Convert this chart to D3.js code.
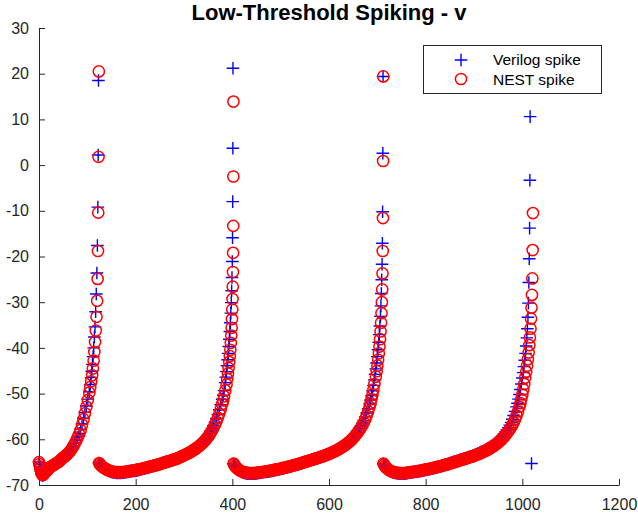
<!DOCTYPE html>
<html><head><meta charset="utf-8">
<script src="https://cdn.jsdelivr.net/npm/d3@7"></script>
<style>body{margin:0;background:#fff}svg text{font-family:"Liberation Sans",Arial,Helvetica,sans-serif}</style>
</head><body><svg id="chart" width="638" height="514"></svg>
<script>
const chartTitle = "Low-Threshold Spiking - v";
const seriesNames = ["Verilog spike", "NEST spike"];
const xTicks = [0, 200, 400, 600, 800, 1000, 1200];
const yTicks = [-70, -60, -50, -40, -30, -20, -10, 0, 10, 20, 30];

// [time (ms), membrane potential v (mV)]
const verilogSpike = [
[0,-65.0],[1,-65.4],[2,-66.0],[3,-66.5],[4,-67.0],[5,-67.4],[6,-67.7],[7,-67.9],[8,-67.9],[9,-67.8],[10,-67.7],[12,-67.5],[14,-67.2],[16,-67.0],[18,-66.8],[20,-66.5],[23,-66.2],[26,-65.95],[29,-65.75],[32,-65.55],[35,-65.35],[38,-65.15],[41,-64.9],[44,-64.6],[47,-64.3],[50,-64.0],[53,-63.75],[56,-63.45],[59,-63.15],[62,-62.8],[65,-62.4],[68,-61.9],[71,-61.4],[74,-60.8],[77,-60.2],[80,-59.5],[83,-58.7],[86,-57.8],[89,-56.6],[92,-55.4],[95,-54.1],[98,-52.7],[101,-51.2],[104,-49.6],[106.2,-48.0],[107.8,-46.5],[109.2,-45.1],[110.6,-43.6],[111.9,-41.9],[113.2,-40.0],[114.6,-37.6],[115.8,-35.4],[117.2,-32.1],[118.5,-28.2],[119.7,-23.6],[120.8,-17.6],[121.7,-9.2],[122.4,2.2],[123.0,18.5],
[124,-65.2],[126,-65.5],[128,-65.75],[130,-65.95],[133,-66.2],[136,-66.45],[139,-66.65],[142,-66.8],[145,-66.95],[148,-67.1],[151,-67.2],[154,-67.25],[157,-67.3],[160,-67.35],[163,-67.35],[166,-67.35],[169,-67.35],[172,-67.3],[175,-67.3],[178,-67.25],[181,-67.2],[184,-67.15],[187,-67.1],[190,-67.05],[193,-67.0],[196,-66.95],[199,-66.9],[202,-66.85],[205,-66.75],[208,-66.7],[211,-66.6],[214,-66.5],[217,-66.45],[220,-66.35],[223,-66.25],[226,-66.15],[229,-66.05],[232,-65.95],[235,-65.85],[238,-65.75],[241,-65.7],[244,-65.6],[247,-65.5],[250,-65.4],[253,-65.3],[256,-65.2],[259,-65.1],[262,-65.0],[265,-64.9],[268,-64.8],[271,-64.7],[274,-64.6],[277,-64.5],[280,-64.4],[283,-64.25],[286,-64.15],[289,-64.0],[292,-63.85],[295,-63.7],[298,-63.55],[301,-63.4],[304,-63.25],[307,-63.05],[310,-62.9],[313,-62.7],[316,-62.5],[319,-62.3],[322,-62.1],[325,-61.85],[328,-61.6],[331,-61.35],[334,-61.05],[337,-60.75],[340,-60.4],[343,-60.05],[346,-59.65],[349,-59.2],[352,-58.75],[355,-58.2],[358,-57.6],[361,-56.95],[364,-56.25],[367,-55.45],[370,-54.55],[373,-53.55],[376,-52.45],[379,-51.25],[381,-50.35],[383,-49.35],[385.2,-47.6],[386.5,-46.4],[387.8,-45.2],[389.1,-43.9],[390.3,-42.6],[391.5,-41.2],[392.7,-39.7],[393.8,-38.1],[394.9,-36.4],[395.9,-34.5],[396.9,-32.4],[397.8,-30.1],[398.6,-27.5],[399.3,-24.6],[399.9,-21.1],[400.4,-15.9],[400.8,-8.0],[401.1,3.7],[401.3,21.2],
[401.8,-65.35],[404,-65.65],[406,-65.95],[408,-66.25],[411,-66.55],[414,-66.8],[417,-67.0],[420,-67.2],[423,-67.3],[426,-67.4],[429,-67.45],[432,-67.5],[435,-67.5],[438,-67.52],[441,-67.52],[444,-67.52],[447,-67.5],[450,-67.47],[453,-67.42],[456,-67.37],[459,-67.32],[462,-67.27],[465,-67.22],[468,-67.17],[471,-67.12],[474,-67.07],[477,-67.02],[480,-66.97],[483,-66.9],[486,-66.8],[489,-66.75],[492,-66.7],[495,-66.6],[498,-66.55],[501,-66.48],[504,-66.38],[507,-66.32],[510,-66.22],[513,-66.15],[516,-66.05],[519,-65.95],[522,-65.88],[525,-65.78],[528,-65.67],[531,-65.6],[534,-65.5],[537,-65.4],[540,-65.3],[543,-65.2],[546,-65.1],[549,-65.0],[552,-64.9],[555,-64.8],[558,-64.7],[561,-64.58],[564,-64.48],[567,-64.38],[570,-64.27],[573,-64.17],[576,-64.06],[579,-63.96],[582,-63.85],[585,-63.75],[588,-63.63],[591,-63.5],[594,-63.38],[597,-63.25],[600,-63.12],[603,-62.97],[606,-62.82],[609,-62.67],[612,-62.5],[615,-62.35],[618,-62.17],[621,-61.97],[624,-61.77],[627,-61.57],[630,-61.35],[633,-61.13],[636,-60.88],[639,-60.62],[642,-60.35],[645,-60.05],[648,-59.73],[651,-59.37],[654,-58.98],[657,-58.55],[660,-58.1],[663,-57.6],[666,-57.08],[669,-56.5],[672,-55.85],[675,-55.1],[678,-54.25],[681,-53.3],[684,-52.25],[686,-51.4],[688,-50.45],[690,-49.4],[692,-48.2],[693.6,-47.0],[695.2,-45.8],[696.8,-44.6],[698.4,-43.3],[699.9,-41.9],[701.4,-40.4],[702.8,-38.8],[704.1,-37.1],[705.3,-35.2],[706.4,-33.1],[707.4,-30.8],[708.3,-28.1],[709.1,-25.1],[709.8,-21.7],[710.4,-17.1],[710.9,-10.2],[711.4,2.6],[711.8,19.4],
[712.3,-65.35],[714,-65.65],[716,-65.95],[718,-66.25],[721,-66.55],[724,-66.8],[727,-67.0],[730,-67.17],[733,-67.27],[736,-67.37],[739,-67.42],[742,-67.47],[745,-67.5],[748,-67.52],[751,-67.52],[754,-67.52],[757,-67.5],[759,-67.47],[762,-67.42],[765,-67.37],[768,-67.32],[771,-67.27],[774,-67.22],[777,-67.17],[780,-67.12],[783,-67.07],[786,-67.02],[789,-66.97],[792,-66.92],[795,-66.82],[798,-66.77],[801,-66.72],[803,-66.62],[806,-66.57],[809,-66.52],[812,-66.42],[815,-66.37],[818,-66.27],[821,-66.22],[824,-66.12],[827,-66.02],[830,-65.95],[833,-65.85],[836,-65.7],[839,-65.6],[842,-65.5],[845,-65.4],[848,-65.3],[851,-65.2],[854,-65.1],[857,-65.0],[859,-64.9],[862,-64.8],[865,-64.7],[868,-64.6],[871,-64.5],[874,-64.4],[877,-64.3],[880,-64.2],[883,-64.1],[886,-64.0],[889,-63.9],[892,-63.8],[895,-63.7],[898,-63.55],[901,-63.45],[904,-63.3],[907,-63.2],[909,-63.05],[912,-62.9],[915,-62.75],[918,-62.6],[921,-62.45],[924,-62.3],[927,-62.1],[930,-61.9],[933,-61.7],[936,-61.5],[939,-61.3],[942,-61.05],[945,-60.8],[947,-60.55],[950,-60.25],[953,-59.95],[956,-59.6],[959,-59.25],[962,-58.85],[965,-58.4],[968,-57.95],[971,-57.45],[974,-56.9],[977,-56.3],[979,-55.6],[982,-54.8],[985,-53.9],[988,-52.9],[990,-52.1],[992,-51.2],[994,-50.2],[996,-49.1],[998,-47.9],[1000,-46.6],[1001.8,-45.4],[1003.5,-44.1],[1005.1,-42.7],[1006.6,-41.2],[1008,-39.6],[1009.3,-37.8],[1010.5,-35.8],[1011.6,-33.3],[1012.6,-30.2],[1013.5,-25.7],[1014.3,-20.5],[1015.0,-13.8],[1015.6,-3.3],[1016.1,10.6],[1019,-65.3]
];

const nestSpike = [
[0,-65.0],[1,-65.4],[2,-65.9],[3,-66.4],[4,-66.9],[5,-67.3],[6,-67.6],[7,-67.8],[8,-67.8],[9,-67.7],[10,-67.6],[12,-67.4],[14,-67.1],[16,-66.9],[18,-66.7],[20,-66.4],[23,-66.1],[26,-65.9],[29,-65.7],[32,-65.5],[35,-65.3],[38,-65.1],[41,-64.9],[44,-64.6],[47,-64.3],[50,-64.0],[53,-63.8],[56,-63.5],[59,-63.2],[62,-62.9],[65,-62.5],[68,-62.0],[71,-61.5],[74,-60.9],[77,-60.3],[80,-59.6],[83,-58.9],[86,-58.0],[89,-56.8],[92,-55.6],[95,-54.3],[98,-52.9],[101,-51.4],[104,-49.8],[106,-48.6],[108,-47.3],[110,-46.0],[111.5,-44.5],[113,-42.8],[114.5,-40.9],[116,-38.7],[117.5,-36.2],[119,-33.2],[120.3,-29.7],[121.3,-24.9],[122,-18.8],[122.6,-10.4],[123.2,1.8],[123.8,20.5],
[124.5,-65.2],[126,-65.45],[128,-65.7],[130,-65.9],[133,-66.15],[136,-66.35],[139,-66.55],[142,-66.7],[145,-66.85],[148,-66.95],[151,-67.05],[154,-67.1],[157,-67.15],[160,-67.2],[163,-67.2],[166,-67.2],[169,-67.2],[172,-67.15],[175,-67.15],[178,-67.1],[181,-67.05],[184,-67.0],[187,-66.95],[190,-66.9],[193,-66.85],[196,-66.8],[199,-66.75],[202,-66.7],[205,-66.6],[208,-66.55],[211,-66.5],[214,-66.4],[217,-66.35],[220,-66.25],[223,-66.2],[226,-66.1],[229,-66.0],[232,-65.95],[235,-65.85],[238,-65.75],[241,-65.7],[244,-65.6],[247,-65.5],[250,-65.4],[253,-65.3],[256,-65.2],[259,-65.1],[262,-65.0],[265,-64.9],[268,-64.8],[271,-64.7],[274,-64.6],[277,-64.5],[280,-64.4],[283,-64.3],[286,-64.2],[289,-64.05],[292,-63.9],[295,-63.75],[298,-63.6],[301,-63.45],[304,-63.3],[307,-63.15],[310,-63.0],[313,-62.8],[316,-62.6],[319,-62.4],[322,-62.2],[325,-62.0],[328,-61.75],[331,-61.5],[334,-61.25],[337,-60.95],[340,-60.65],[343,-60.3],[346,-59.95],[349,-59.55],[352,-59.1],[355,-58.6],[358,-58.05],[361,-57.45],[364,-56.8],[367,-56.1],[370,-55.3],[373,-54.4],[376,-53.4],[379,-52.3],[381,-51.5],[383,-50.6],[385.5,-49.3],[388,-48.0],[389.5,-46.8],[391,-45.6],[392.3,-44.4],[393.6,-43.1],[394.8,-41.8],[395.9,-40.4],[396.9,-38.9],[397.8,-37.3],[398.6,-35.6],[399.3,-33.7],[399.9,-31.6],[400.4,-29.3],[400.9,-26.6],[401.3,-23.4],[401.6,-19.2],[401.9,-13.3],[402.1,-2.5],[402.3,13.9],
[402.8,-65.3],[404,-65.6],[406,-65.9],[408,-66.15],[411,-66.45],[414,-66.7],[417,-66.9],[420,-67.05],[423,-67.15],[426,-67.25],[429,-67.3],[432,-67.35],[435,-67.38],[438,-67.4],[441,-67.4],[444,-67.4],[447,-67.38],[450,-67.35],[453,-67.3],[456,-67.25],[459,-67.2],[462,-67.15],[465,-67.1],[468,-67.05],[471,-67.0],[474,-66.95],[477,-66.9],[480,-66.85],[483,-66.8],[486,-66.7],[489,-66.65],[492,-66.6],[495,-66.5],[498,-66.45],[501,-66.4],[504,-66.3],[507,-66.25],[510,-66.15],[513,-66.1],[516,-66.0],[519,-65.9],[522,-65.85],[525,-65.75],[528,-65.65],[531,-65.6],[534,-65.5],[537,-65.4],[540,-65.3],[543,-65.2],[546,-65.1],[549,-65.0],[552,-64.9],[555,-64.8],[558,-64.7],[561,-64.6],[564,-64.5],[567,-64.4],[570,-64.3],[573,-64.2],[576,-64.1],[579,-64.0],[582,-63.9],[585,-63.8],[588,-63.7],[591,-63.55],[594,-63.45],[597,-63.3],[600,-63.2],[603,-63.05],[606,-62.9],[609,-62.75],[612,-62.6],[615,-62.45],[618,-62.3],[621,-62.1],[624,-61.9],[627,-61.7],[630,-61.5],[633,-61.3],[636,-61.05],[639,-60.8],[642,-60.55],[645,-60.25],[648,-59.95],[651,-59.6],[654,-59.25],[657,-58.85],[660,-58.4],[663,-57.95],[666,-57.45],[669,-56.9],[672,-56.3],[675,-55.6],[678,-54.8],[681,-53.9],[684,-52.9],[686,-52.1],[688,-51.2],[690,-50.2],[692,-49.1],[694,-47.9],[696.9,-46.3],[698.6,-45.1],[700.2,-43.9],[701.7,-42.6],[703.1,-41.2],[704.4,-39.7],[705.6,-38.1],[706.7,-36.4],[707.7,-34.5],[708.6,-32.4],[709.4,-30.0],[710.1,-27.2],[710.7,-23.7],[711.2,-18.8],[711.6,-11.6],[712.0,0.9],[712.3,19.4],
[712.8,-65.3],[714,-65.6],[716,-65.9],[718,-66.15],[721,-66.45],[724,-66.7],[727,-66.9],[730,-67.05],[733,-67.15],[736,-67.25],[739,-67.3],[742,-67.35],[745,-67.38],[748,-67.4],[751,-67.4],[754,-67.4],[757,-67.38],[760,-67.35],[763,-67.3],[766,-67.25],[769,-67.2],[772,-67.15],[775,-67.1],[778,-67.05],[781,-67.0],[784,-66.95],[787,-66.9],[790,-66.85],[793,-66.8],[796,-66.7],[799,-66.65],[802,-66.6],[805,-66.5],[808,-66.45],[811,-66.4],[814,-66.3],[817,-66.25],[820,-66.15],[823,-66.1],[826,-66.0],[829,-65.9],[832,-65.85],[835,-65.75],[838,-65.65],[841,-65.6],[844,-65.5],[847,-65.4],[850,-65.3],[853,-65.2],[856,-65.1],[859,-65.0],[862,-64.9],[865,-64.8],[868,-64.7],[871,-64.6],[874,-64.5],[877,-64.4],[880,-64.3],[883,-64.2],[886,-64.1],[889,-64.0],[892,-63.9],[895,-63.8],[898,-63.7],[901,-63.55],[904,-63.45],[907,-63.3],[910,-63.2],[913,-63.05],[916,-62.9],[919,-62.75],[922,-62.6],[925,-62.45],[928,-62.3],[931,-62.1],[934,-61.9],[937,-61.7],[940,-61.5],[943,-61.3],[946,-61.05],[949,-60.8],[952,-60.55],[955,-60.25],[958,-59.95],[961,-59.6],[964,-59.25],[967,-58.85],[970,-58.4],[973,-57.95],[976,-57.45],[979,-56.9],[982,-56.3],[985,-55.6],[988,-54.8],[991,-53.9],[994,-52.9],[996,-52.1],[998,-51.2],[1000,-50.2],[1002,-49.1],[1004,-47.9],[1006,-46.5],[1008,-45.2],[1009.8,-43.9],[1011.5,-42.5],[1013,-41.0],[1014.4,-39.4],[1015.7,-37.7],[1016.9,-35.8],[1018,-33.6],[1019,-31.2],[1019.9,-28.4],[1020.7,-24.8],[1021.4,-18.6],[1022,-10.5]
];

const axisColor = "#262626";
const svg = d3.select("#chart");
const x = d3.scaleLinear().domain([0, 1200]).range([39, 619]);
const y = d3.scaleLinear().domain([-70, 30]).range([485, 28]);

// axes (MATLAB style, box off, ticks inside)
const plainFormat = d => String(d);
const gx = svg.append("g").attr("transform", `translate(0,${y(-70)})`)
  .call(d3.axisBottom(x).tickValues(xTicks).tickFormat(plainFormat).tickSizeInner(-6).tickSizeOuter(0).tickPadding(14));
const gy = svg.append("g").attr("transform", `translate(${x(0)},0)`)
  .call(d3.axisLeft(y).tickValues(yTicks).tickFormat(plainFormat).tickSizeInner(-6).tickSizeOuter(0).tickPadding(10));
[gx, gy].forEach(g => {
  g.select(".domain").attr("stroke", axisColor).attr("stroke-width", 1);
  g.selectAll(".tick line").attr("stroke", axisColor).attr("stroke-width", 1);
  g.selectAll(".tick text").attr("fill", axisColor).style("font-size", "16px");
});

// data markers: Verilog (blue plus) first, then NEST (red circle) on top
const plusPath = "M-6.3,0H6.3M0,-6.3V6.3";
svg.append("g").selectAll("path").data(verilogSpike).join("path")
  .attr("d", plusPath)
  .attr("transform", d => `translate(${x(d[0])},${y(d[1])})`)
  .attr("fill", "none").attr("stroke", "#0000ff").attr("stroke-width", 1.4);
svg.append("g").selectAll("circle").data(nestSpike).join("circle")
  .attr("cx", d => x(d[0])).attr("cy", d => y(d[1])).attr("r", 5.6)
  .attr("fill", "none").attr("stroke", "#ff0000").attr("stroke-width", 1.5);

// title
svg.append("text").attr("x", (x(0) + x(1200)) / 2).attr("y", 20)
  .attr("text-anchor", "middle").style("font-size", "22px").style("font-weight", "bold")
  .attr("fill", "#000").text(chartTitle);

// legend
const lg = svg.append("g");
lg.append("rect").attr("x", 423.5).attr("y", 45.5).attr("width", 178).attr("height", 48)
  .attr("fill", "#fff").attr("stroke", axisColor).attr("stroke-width", 1);
lg.append("path").attr("d", plusPath).attr("transform", "translate(461,60)")
  .attr("fill", "none").attr("stroke", "#0000ff").attr("stroke-width", 1.4);
lg.append("circle").attr("cx", 461).attr("cy", 79).attr("r", 5.6)
  .attr("fill", "none").attr("stroke", "#ff0000").attr("stroke-width", 1.5);
lg.selectAll("text.lab").data(seriesNames).join("text").attr("class", "lab")
  .attr("x", 493).attr("y", (d, i) => 65 + i * 20)
  .style("font-size", "15.5px").attr("fill", "#000").text(d => d);
</script></body></html>
